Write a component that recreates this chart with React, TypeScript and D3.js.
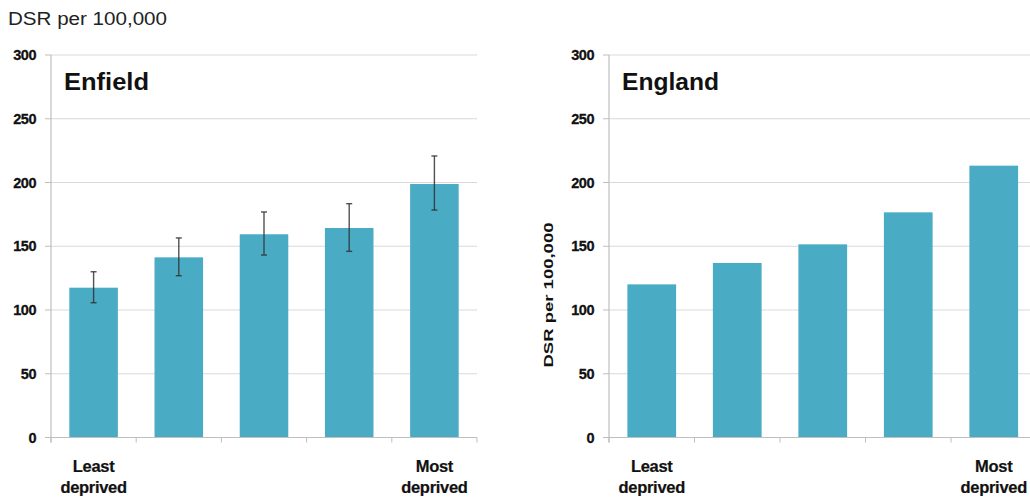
import React from "react";
import * as d3 from "d3";

const categories = ["1", "2", "3", "4", "5"];
const enfieldValues = [117.5, 141.3, 159.4, 164.3, 198.8];
const enfieldLower = [105.7, 126.9, 143.1, 146.0, 178.4];
const enfieldUpper = [130.0, 156.5, 176.9, 183.4, 220.8];
const englandValues = [120.1, 136.9, 151.5, 176.6, 213.2];
const yTicks = [0, 50, 100, 150, 200, 250, 300];
const firstLabel = ["Least", "deprived"];
const lastLabel = ["Most", "deprived"];

const BAR = "#4aabc5";
const GRID = "#d9d9d9";
const AXIS = "#bfbfbf";
const TXT = "#111";

type PanelProps = {
  x0: number;
  x1: number;
  title: string;
  titleLen: number;
  values: number[];
  lower?: number[];
  upper?: number[];
  gridEnd: number;
};

function Panel({ x0, x1, title, titleLen, values, lower, upper, gridEnd }: PanelProps) {
  const y = d3.scaleLinear().domain([0, 300]).range([437.5, 55]);
  const x = d3.scaleBand<string>().domain(categories).range([x0, x1]).paddingInner(0.43).paddingOuter(0.215);
  const xb = d3.scaleBand<string>().domain(categories).range([x0, x1]);
  const first = categories[0];
  const last = categories[categories.length - 1];
  return (
    <g>
      {yTicks.map((t) => (
        <g key={t}>
          {t > 0 && <line x1={x0} x2={gridEnd} y1={y(t)} y2={y(t)} stroke={GRID} strokeWidth={1.2} />}
          <line x1={x0 - 6} x2={x0} y1={y(t)} y2={y(t)} stroke={AXIS} strokeWidth={1} />
          <text x={x0 - 15} y={y(t) + 5} textAnchor="end" fontFamily="Liberation Sans, Arial, sans-serif" fontWeight="bold" fontSize={14.5} letterSpacing={-0.5} stroke={TXT} strokeWidth={0.3} fill={TXT}>
            {t}
          </text>
        </g>
      ))}
      {values.map((v, i) => (
        <rect key={i} x={x(categories[i])} y={y(v)} width={x.bandwidth()} height={y(0) - y(v)} fill={BAR} />
      ))}
      {lower && upper &&
        values.map((v, i) => {
          const cx = (x(categories[i]) as number) + x.bandwidth() / 2;
          return (
            <g key={"e" + i} stroke="#333" strokeWidth={1.4} strokeOpacity={0.85}>
              <line x1={cx} x2={cx} y1={y(upper[i])} y2={y(lower[i])} />
              <line x1={cx - 3} x2={cx + 3} y1={y(upper[i])} y2={y(upper[i])} />
              <line x1={cx - 3} x2={cx + 3} y1={y(lower[i])} y2={y(lower[i])} />
            </g>
          );
        })}
      <line x1={x0} x2={x0} y1={y(300)} y2={y(0) + 5} stroke={AXIS} strokeWidth={1.2} />
      <line x1={x0} x2={gridEnd} y1={y(0)} y2={y(0)} stroke={AXIS} strokeWidth={1.2} />
      {categories.map((c) => (
        <line key={"t" + c} x1={xb(c)} x2={xb(c)} y1={y(0)} y2={y(0) + 5} stroke={AXIS} strokeWidth={1} />
      ))}
      <line x1={x1} x2={x1} y1={y(0)} y2={y(0) + 5} stroke={AXIS} strokeWidth={1} />
      <text x={x0 + 13} y={90} fontFamily="Liberation Sans, Arial, sans-serif" fontWeight="bold" fontSize={23} textLength={titleLen} lengthAdjust="spacingAndGlyphs" fill={TXT}>
        {title}
      </text>
      {firstLabel.map((s, i) => (
        <text key={"f" + i} x={(x(first) as number) + x.bandwidth() / 2} y={472 + i * 21} textAnchor="middle" fontFamily="Liberation Sans, Arial, sans-serif" fontWeight="bold" fontSize={16.5} letterSpacing={-0.3} stroke={TXT} strokeWidth={0.2} fill={TXT}>
          {s}
        </text>
      ))}
      {lastLabel.map((s, i) => (
        <text key={"l" + i} x={(x(last) as number) + x.bandwidth() / 2} y={472 + i * 21} textAnchor="middle" fontFamily="Liberation Sans, Arial, sans-serif" fontWeight="bold" fontSize={16.5} letterSpacing={-0.3} stroke={TXT} strokeWidth={0.2} fill={TXT}>
          {s}
        </text>
      ))}
    </g>
  );
}

export default function App() {
  return (
    <svg width={1030} height={502} style={{ position: "absolute", left: 0, top: 0, background: "#fff" }}>
      <text x={8} y={25} fontFamily="Liberation Sans, Arial, sans-serif" fontSize={18} textLength={159} lengthAdjust="spacingAndGlyphs" fill="#222">
        DSR per 100,000
      </text>
      <Panel x0={51} x1={477} title="Enfield" titleLen={85} values={enfieldValues} lower={enfieldLower} upper={enfieldUpper} gridEnd={477} />
      <Panel x0={609} x1={1036.5} title="England" titleLen={97} values={englandValues} gridEnd={1036.5} />
      <text transform="translate(553,295) rotate(-90)" textAnchor="middle" fontFamily="Liberation Sans, Arial, sans-serif" fontWeight="bold" fontSize={12.5} textLength={145} lengthAdjust="spacingAndGlyphs" fill={TXT}>
        DSR per 100,000
      </text>
    </svg>
  );
}
